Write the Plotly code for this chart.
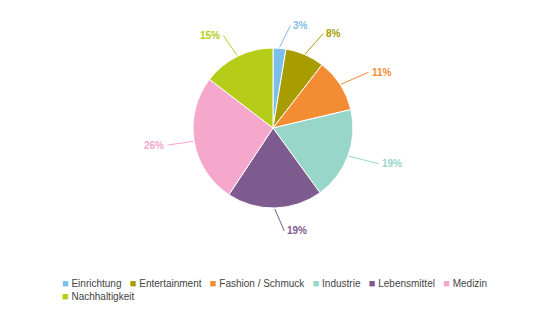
import math
import plotly.graph_objects as go

# ---- data ----
categories = ["Einrichtung", "Entertainment", "Fashion / Schmuck", "Industrie",
              "Lebensmittel", "Medizin", "Nachhaltigkeit"]
values = [2.6, 7.9, 10.8, 18.7, 19.3, 26.1, 14.6]
colors = ["#7cbfea", "#a79d00", "#f48c34", "#97d6c9", "#7e5b8e", "#f6a7cc", "#b5cc18"]

# ---- layout constants ----
W, H = 550, 312
CX, CY, R = 273, 128, 80
FONT = "Liberation Sans, Arial, sans-serif"

total = sum(values)
pct_text = [f"{round(v / total * 100)}%" for v in values]

fig = go.Figure(go.Pie(
    labels=categories,
    values=values,
    marker=dict(colors=colors, line=dict(color="white", width=1)),
    sort=False,
    direction="clockwise",
    rotation=0,
    textinfo="none",
    hoverinfo="label+percent",
    domain=dict(x=[(CX - R) / W, (CX + R) / W],
                y=[1 - (CY + R) / H, 1 - (CY - R) / H]),
    showlegend=False,
))

# data labels with leader lines, positioned from slice mid-angles
annotations = []
cum = 0.0
for lab, v, col in zip(pct_text, values, colors):
    theta = 2 * math.pi * (cum + v / 2) / total
    cum += v
    s, c = math.sin(theta), math.cos(theta)
    side = 1 if s >= 0 else -1
    hx, hy = CX + (R + 1) * s, CY - (R + 1) * c
    off = 9 if side > 0 else 4
    tx, ty = CX + (R + 23) * s + side * off, CY - (R + 23) * c
    annotations.append(dict(
        x=hx / W, y=1 - hy / H, xref="paper", yref="paper",
        ax=tx - hx, ay=ty - hy, axref="pixel", ayref="pixel",
        text=f"<b>{lab}</b>", showarrow=True, arrowhead=0, arrowwidth=1,
        arrowcolor=col, xanchor="left" if side > 0 else "right",
        yanchor="middle", borderpad=2,
        font=dict(family=FONT, size=10, color=col),
    ))

# legend rows built from the categories
items = [f"<span style='color:{col};font-size:11px'>■</span>&nbsp;{cat}"
         for cat, col in zip(categories, colors)]
rows = [items[:6], items[6:]]
for i, row in enumerate(rows):
    annotations.append(dict(
        x=61 / W, y=1 - (283 + 13 * i) / H, xref="paper", yref="paper",
        text="&nbsp;&nbsp;&nbsp;".join(row), showarrow=False,
        xanchor="left", yanchor="middle", align="left", borderpad=0,
        font=dict(family=FONT, size=10, color="#444444"),
    ))

fig.update_layout(
    width=W, height=H,
    margin=dict(l=0, r=0, t=0, b=0),
    paper_bgcolor="white", plot_bgcolor="white",
    annotations=annotations,
    font=dict(family=FONT),
)

fig.write_html("out.html")
